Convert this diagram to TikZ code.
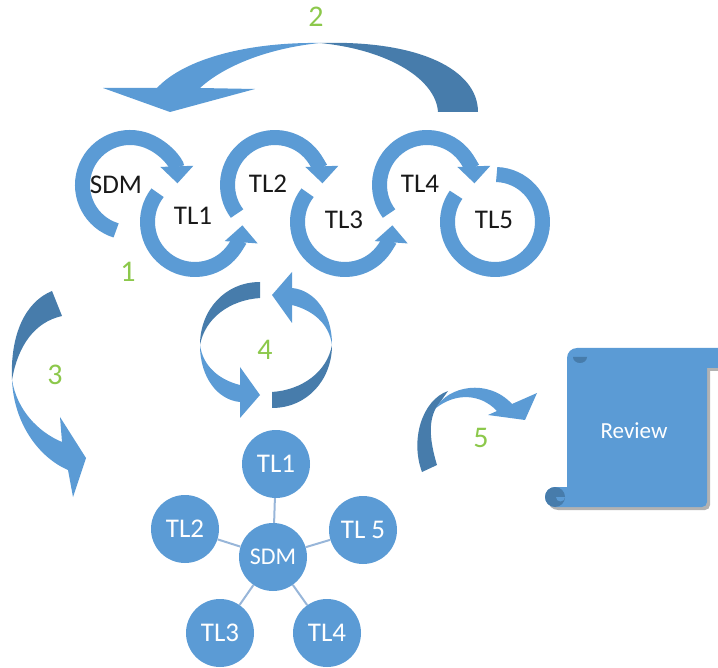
\documentclass[tikz,border=0pt]{standalone}
\usepackage{fontspec}
\setmainfont{Carlito}
\usetikzlibrary{arrows.meta}

\definecolor{ringblue}{HTML}{5B9BD5}
\definecolor{shadeblue}{HTML}{477CAB}
\definecolor{stepgreen}{HTML}{8CC84B}
\definecolor{spokeblue}{HTML}{98B6D9}

\begin{document}
\begin{tikzpicture}[x=1pt, y=-1pt,
    cyclearc/.style={draw=ringblue, line width=15pt, preaction={draw=white, line width=18pt}},
    cyclearrow/.style={cyclearc, -{Triangle[width=32pt, length=17pt]}},
    cyclelabel/.style={text=black!90, font=\fontsize{27}{29}\selectfont},
    stepnum/.style={text=stepgreen, font=\fontsize{30}{32}\selectfont},
    member/.style={shape=circle, fill=ringblue, minimum size=68pt, inner sep=0pt, text=white, font=\fontsize{27}{29}\selectfont},
    spoke/.style={draw=spokeblue, line width=2pt},
    lightpart/.style={fill=ringblue},
    shadepart/.style={fill=shadeblue},
]
\useasboundingbox (0,0) rectangle (718,668);

\coordinate (r0) at (130,185);
\coordinate (r1) at (195,222);
\coordinate (r2) at (275,185);
\coordinate (r3) at (345,222);
\coordinate (r4) at (427,185);
\coordinate (r5) at (495,222);

\draw[cyclearrow] ([shift={(107:47.5)}]r0) arc[start angle=107, end angle=358, radius=47.5];
\draw[cyclearrow] ([shift={(218:47.5)}]r1) arc[start angle=218, end angle=4, radius=47.5];
\draw[cyclearrow] ([shift={(143:47.5)}]r2) arc[start angle=143, end angle=358, radius=47.5];
\draw[cyclearrow] ([shift={(218:47.5)}]r3) arc[start angle=218, end angle=4, radius=47.5];
\draw[cyclearrow] ([shift={(143:47.5)}]r4) arc[start angle=143, end angle=358, radius=47.5];
\draw[cyclearc] ([shift={(272:47.5)}]r5) arc[start angle=272, end angle=575, radius=47.5];

\node[cyclelabel] (sdmtop) at (116,185) {SDM};
\node[cyclelabel] (tl1top) at (193,216) {TL1};
\node[cyclelabel] (tl2top) at (268,184) {TL2};
\node[cyclelabel] (tl3top) at (344,220) {TL3};
\node[cyclelabel] (tl4top) at (420,184) {TL4};
\node[cyclelabel] (tl5top) at (494,220) {TL5};

\fill[shadepart] (320,43) .. controls (420,40) and (478,70) .. (478,112) -- (438,112)
    .. controls (436,80) and (390,50) .. (320,43) -- cycle;
\fill[lightpart] (320,43) .. controls (250,42) and (185,58) .. (157,88) -- (103,88) -- (170,112)
    -- (255,89) -- (200,88) .. controls (225,65) and (270,48) .. (320,43) -- cycle;

\fill[shadepart] (52,291) .. controls (25,302) and (10,335) .. (12,380)
    .. controls (18,345) and (35,322) .. (62,316) -- cycle;
\fill[lightpart] (12,380) .. controls (14,425) and (40,458) .. (68,470) -- (73,497) -- (86,458)
    -- (60,417) -- (62,442) .. controls (38,432) and (17,410) .. (12,380) -- cycle;

\foreach \turn in {0,180} {
  \begin{scope}[rotate around={\turn:(266,345)}]
    \fill[shadepart] (260,282) .. controls (225,282) and (200,310) .. (200,345)
        .. controls (205,318) and (230,300) .. (260,298) -- cycle;
    \fill[lightpart] (200,345) .. controls (200,378) and (218,400) .. (240,402) -- (240,418) -- (260,395)
        -- (240,367) -- (240,385) .. controls (220,380) and (203,367) .. (200,345) -- cycle;
  \end{scope}
}

\fill[shadepart] (448,391) .. controls (422,400) and (410,440) .. (422,472) -- (437,465)
    .. controls (430,442) and (428,422) .. (436,408) -- cycle;
\fill[lightpart] (436,408) .. controls (448,386) and (488,378) .. (512,404) -- (537,393) -- (525,420)
    -- (488,415) -- (497,411) .. controls (480,393) and (455,393) .. (436,408) -- cycle;

\fill[ringblue, preaction={fill=black!30, transform canvas={xshift=3pt, yshift=-3pt}}]
    (555,487) -- (567,487) [rounded corners=10pt] -- (567,348) -- (730,348) [sharp corners]
    -- (730,368) -- (707,368) [rounded corners=5pt] -- (707,507) [sharp corners]
    -- (555,507) arc[start angle=90, end angle=270, radius=10] -- cycle;
\fill[shadepart] (573,357) arc[start angle=180, end angle=0, x radius=7, y radius=6] -- cycle;
\fill[shadepart] (555,497) circle[radius=10];
\fill[lightpart] (565,497) arc[start angle=0, end angle=180, radius=4.5] -- cycle;
\node[text=white, font=\fontsize{23}{25}\selectfont] (review) at (634,431) {Review};

\node[member] (sdm) at (273,557) {\fontsize{24}{26}\selectfont SDM};
\node[member] (tl1) at (276,464) {TL1};
\node[member] (tl2) at (185,529) {TL2};
\node[member] (tl5) at (363,530) {TL 5};
\node[member] (tl3) at (220,633) {TL3};
\node[member] (tl4) at (327,633) {TL4};

\path[spoke]
    (sdm) edge (tl1)
    (sdm) edge (tl2)
    (sdm) edge (tl5)
    (sdm) edge (tl3)
    (sdm) edge (tl4)
;

\node[stepnum] (n1) at (128,272) {1};
\node[stepnum] (n2) at (316,17) {2};
\node[stepnum] (n3) at (55,375) {3};
\node[stepnum] (n4) at (265,350) {4};
\node[stepnum] (n5) at (481,438) {5};
\end{tikzpicture}
\end{document}
